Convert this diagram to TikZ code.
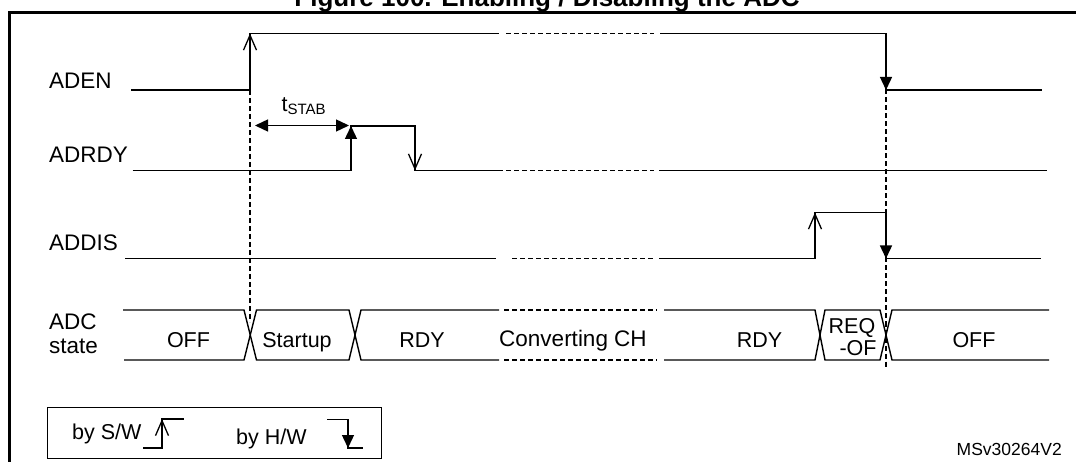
\documentclass[tikz,border=0pt]{standalone}
\usepackage{fontspec}
\setmainfont{Liberation Sans}
\usetikzlibrary{arrows.meta}
\begin{document}
\begin{tikzpicture}[x=1pt,y=-1pt,
  wave/.style={line width=1.4pt},
  brk/.style={line width=1.1pt, dash pattern=on 5pt off 3pt},
  guide/.style={line width=1.1pt, dash pattern=on 5pt off 3pt},
  swtip/.style={-{Straight Barb[length=15pt,width=13pt,line width=1.3pt]}},
  hwtip/.style={-{Triangle[length=13pt,width=12pt]}},
  lab/.style={font=\fontsize{22.5}{25}\selectfont, anchor=base west, inner sep=0pt},
  st/.style={font=\fontsize{21.5}{24}\selectfont, anchor=base, inner sep=0pt}]
\clip (0,0) rectangle (1076,462);
\useasboundingbox (0,0) rectangle (1076,462);

% title and frame
\node[anchor=base, inner sep=0pt, font=\bfseries\fontsize{26}{30}\selectfont] (title) at (547,7) {Figure 100. Enabling / Disabling the ADC};
\draw[line width=2.4pt] (9.6,480) -- (9.6,12.4) -- (1090,12.4);

% guide lines
\coordinate (g1t) at (250,90);  \coordinate (g1b) at (250,322);
\coordinate (g2t) at (886,33.5); \coordinate (g2b) at (886,368);
\draw[guide] (g1t) -- (g1b);
\draw[guide] (g2t) -- (g2b);

% labels
\node[lab] (laden) at (49,88.5) {ADEN};
\node[lab] (lrdy) at (49,163) {ADRDY};
\node[lab] (ldis) at (49,250.5) {ADDIS};
\node[lab] (ladc) at (49,330) {ADC};
\node[lab] (lstate) at (49,353) {state};

% ADEN
\coordinate (e0) at (131,90); \coordinate (e1) at (250,90); \coordinate (e2) at (250,33.5);
\coordinate (e3) at (499,33.5); \coordinate (e4) at (506,33.5); \coordinate (e5) at (654,33.5);
\coordinate (e6) at (660,33.5); \coordinate (e7) at (886,33.5); \coordinate (e8) at (886,90);
\coordinate (e9) at (1042,90);
\draw[wave] (e0) -- (e1) -- (e2) -- (e3);
\draw[wave,swtip] (e1) -- (e2);
\draw[brk] (e4) -- (e5);
\draw[wave] (e6) -- (e7) -- (e8) -- (e9);
\draw[wave,hwtip] (e7) -- (e8);

% ADRDY
\coordinate (r0) at (132.6,170.5); \coordinate (r1) at (351,170.5); \coordinate (r2) at (351,126);
\coordinate (r3) at (415,126); \coordinate (r4) at (415,170.5); \coordinate (r5) at (503,170.5);
\coordinate (r6) at (506,170.5); \coordinate (r7) at (654,170.5); \coordinate (r8) at (659,170.5);
\coordinate (r9) at (1047,170.5);
\draw[wave] (r0) -- (r1) -- (r2) -- (r3) -- (r4) -- (r5);
\draw[wave,hwtip] (r1) -- (r2);
\draw[wave,swtip] (r3) -- (r4);
\draw[brk] (r6) -- (r7);
\draw[wave] (r8) -- (r9);

% tSTAB
\coordinate (ta) at (255,125.5); \coordinate (tb) at (349,125.5);
\draw[line width=1.4pt, {Triangle[length=13pt,width=12pt]}-{Triangle[length=13pt,width=12pt]}] (ta) -- (tb);
\node[anchor=base west, inner sep=0pt] (tstab) at (281.5,111.5) {\fontsize{21.5}{24}\selectfont t\fontsize{15}{16}\selectfont\raisebox{-3.5pt}{STAB}};

% ADDIS
\coordinate (d0) at (125,258.5); \coordinate (d1) at (496,258.5); \coordinate (d2) at (512,258.5);
\coordinate (d3) at (655,258.5); \coordinate (d4) at (659,258.5); \coordinate (d5) at (815,258.5);
\coordinate (d6) at (815,212.5); \coordinate (d7) at (886,212.5); \coordinate (d8) at (886,258.5);
\coordinate (d9) at (1041,258.5);
\draw[wave] (d0) -- (d1);
\draw[brk] (d2) -- (d3);
\draw[wave] (d4) -- (d5) -- (d6) -- (d7) -- (d8) -- (d9);
\draw[wave,swtip] (d5) -- (d6);
\draw[wave,hwtip] (d7) -- (d8);

% ADC state bus
\draw[wave] (123,310) -- (244,310) -- (256.5,360) -- (349,360) -- (361,310) -- (499,310);
\draw[wave] (124,360) -- (244,360) -- (256.5,310) -- (349,310) -- (361,360) -- (499,360);
\draw[brk] (504,310) -- (657,310);
\draw[brk] (504,360) -- (657,360);
\draw[wave] (664,310) -- (815,310) -- (825,360) -- (880,360) -- (892,310) -- (1049,310);
\draw[wave] (664,360) -- (815,360) -- (825,310) -- (880,310) -- (892,360) -- (1049,360);

\node[st] (s1) at (188.5,347) {OFF};
\node[st] (s2) at (297,347) {Startup};
\node[st] (s3) at (422,347) {RDY};
\node[st, font=\fontsize{22.5}{25}\selectfont] (s4) at (573,346) {Converting CH};
\node[st] (s5) at (759.5,347) {RDY};
\node[st] (s6a) at (852,333) {REQ};
\node[st] (s6b) at (858,355.5) {-OF};
\node[st] (s7) at (974,347) {OFF};

% legend
\node[draw, line width=1.2pt, minimum width=333.5pt, minimum height=51pt, anchor=north west, inner sep=0pt] (legend) at (47,406.7) {};
\node[st, anchor=base west] (lsw) at (72,439.5) {by S/W};
\node[st, anchor=base west] (lhw) at (236,444.6) {by H/W};
\coordinate (a0) at (143,448); \coordinate (a1) at (162,448); \coordinate (a2) at (162,419); \coordinate (a3) at (183.5,419);
\draw[wave] (a0) -- (a1) -- (a2) -- (a3);
\draw[wave,swtip] (a1) -- (a2);
\coordinate (b0) at (327,419.5); \coordinate (b1) at (348,419.5); \coordinate (b2) at (348,448); \coordinate (b3) at (362.6,448);
\draw[wave] (b0) -- (b1) -- (b2) -- (b3);
\draw[wave,hwtip] (b1) -- (b2);

\node[anchor=base west, inner sep=0pt, font=\fontsize{17.5}{20}\selectfont] (ref) at (956.5,455) {MSv30264V2};
\end{tikzpicture}
\end{document}
